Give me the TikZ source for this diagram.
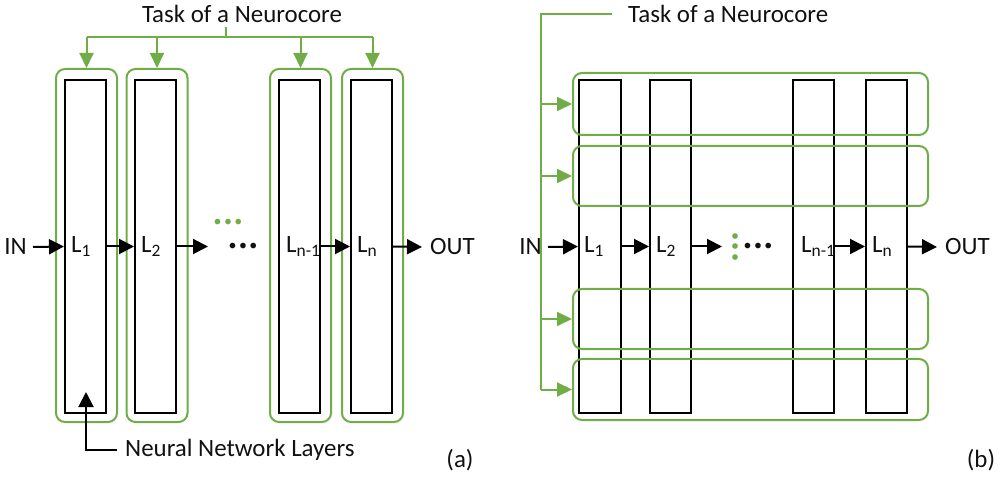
\documentclass[tikz,border=0pt]{standalone}
\usepackage{fontspec}
\setmainfont{Carlito}
\usetikzlibrary{arrows.meta}
\definecolor{ngreen}{HTML}{70AD47}
\definecolor{ntext}{HTML}{111111}
\newcommand{\threedots}{\textbullet\kern2.5bp\textbullet\kern2.5bp\textbullet}
\begin{document}
\begin{tikzpicture}[x=1bp,y=-1bp,
  every node/.style={font=\fontsize{25}{29}\selectfont, text=ntext},
  layer/.style={draw=black, line width=2bp, minimum width=41bp, minimum height=333bp, inner sep=0pt},
  corebox/.style={draw=ngreen, line width=2bp, rounded corners=9bp, inner sep=0pt},
  lbl/.style={anchor=west, inner sep=0pt},
  arr/.style={line width=2bp, draw=black, -{Triangle[length=15bp,width=15bp]}},
  garr/.style={line width=2bp, draw=ngreen, -{Triangle[length=15bp,width=14bp]}},
  gline/.style={line width=2bp, draw=ngreen},
  dots/.style={inner sep=0pt, font=\fontsize{16}{18}\selectfont}
]
\useasboundingbox (0,0) rectangle (1005,481);

% ---------- panel (a) ----------
\node[layer] (a1) at (85.5,246.5) {};
\node[layer] (a2) at (155.5,246.5) {};
\node[layer] (a3) at (299.5,246.5) {};
\node[layer] (a4) at (371.5,246.5) {};
\node[corebox, minimum width=61bp, minimum height=353bp] (ga1) at (86.5,245.5) {};
\node[corebox, minimum width=61bp, minimum height=353bp] (ga2) at (157,245.5) {};
\node[corebox, minimum width=61bp, minimum height=353bp] (ga3) at (300.5,245.5) {};
\node[corebox, minimum width=61bp, minimum height=353bp] (ga4) at (372.5,245.5) {};

\node[lbl] (la1) at ([xshift=7bp]a1.west) {L\textsubscript{1}};
\node[lbl] (la2) at ([xshift=7bp]a2.west) {L\textsubscript{2}};
\node[lbl] (la3) at ([xshift=8bp]a3.west) {L\textsubscript{n-1}};
\node[lbl] (la4) at ([xshift=7bp]a4.west) {L\textsubscript{n}};

\node[anchor=east, inner sep=0pt] (ina) at (27,247) {IN};
\node[anchor=west, inner sep=0pt] (outa) at (430,247) {OUT};
\node[dots] (dota) at (243,247) {\threedots};
\node[dots, text=ngreen] (gdota) at (228,223) {\threedots};
\coordinate (ea) at (208,246.5);

\draw[arr] ([xshift=6bp]ina.east) -- (a1.west);
\draw[arr] (a1.east) -- (a2.west);
\draw[arr] (a2.east) -- (ea);
\draw[arr] (a3.east) -- (a4.west);
\draw[arr] (a4.east) -- ([xshift=-8bp]outa.west);

\node[inner sep=0pt] (taska) at (242,14) {Task of a Neurocore};
\coordinate (ja) at (226,37);
\draw[gline] ([yshift=-4bp]taska.south -| ja) -- (ja);
\draw[gline] (ga1.north |- ja) -- (ga4.north |- ja);
\draw[garr] (ga1.north |- ja) -- (ga1.north);
\draw[garr] (ga2.north |- ja) -- (ga2.north);
\draw[garr] (ga3.north |- ja) -- (ga3.north);
\draw[garr] (ga4.north |- ja) -- (ga4.north);

\node[anchor=west, inner sep=0pt] (nnl) at (125,450) {Neural Network Layers};
\coordinate (tipa) at (86,392);
\draw[arr] ([xshift=-8bp]nnl.west) -| (tipa);

\node[inner sep=0pt] (capa) at (460,460) {(a)};

% ---------- panel (b) ----------
\node[layer, minimum width=42bp] (b1) at (600,246.5) {};
\node[layer] (b2) at (670.5,246.5) {};
\node[layer] (b3) at (813.5,246.5) {};
\node[layer] (b4) at (886.5,246.5) {};
\node[corebox, minimum width=355bp, minimum height=62bp] (gb1) at (750.5,104) {};
\node[corebox, minimum width=355bp, minimum height=60bp] (gb2) at (750.5,176) {};
\node[corebox, minimum width=355bp, minimum height=60bp] (gb3) at (750.5,319) {};
\node[corebox, minimum width=355bp, minimum height=61bp] (gb4) at (750.5,389.5) {};

\node[lbl] (lb1) at ([xshift=6bp]b1.west) {L\textsubscript{1}};
\node[lbl] (lb2) at ([xshift=7bp]b2.west) {L\textsubscript{2}};
\node[lbl] (lb3) at ([xshift=9bp]b3.west) {L\textsubscript{n-1}};
\node[lbl] (lb4) at ([xshift=7bp]b4.west) {L\textsubscript{n}};

\node[anchor=east, inner sep=0pt] (inb) at (542,247) {IN};
\node[anchor=west, inner sep=0pt] (outb) at (945,247) {OUT};
\node[dots] (dotb) at (758,247) {\threedots};
\node[dots, text=ngreen, rotate=90] (gdotb) at (736,247) {\threedots};
\coordinate (eb) at (722,246.5);

\draw[arr] ([xshift=6bp]inb.east) -- (b1.west);
\draw[arr] (b1.east) -- (b2.west);
\draw[arr] (b2.east) -- (eb);
\draw[arr] (b3.east) -- (b4.west);
\draw[arr] (b4.east) -- ([xshift=-8bp]outb.west);

\node[anchor=west, inner sep=0pt] (taskb) at (628,14) {Task of a Neurocore};
\coordinate (jb) at (541,390);
\draw[gline] ([xshift=-16bp]taskb.west) -| (jb);
\draw[garr] (gb1.west -| jb) -- (gb1.west);
\draw[garr] (gb2.west -| jb) -- (gb2.west);
\draw[garr] (gb3.west -| jb) -- (gb3.west);
\draw[garr] (gb4.west -| jb) -- (gb4.west);

\node[inner sep=0pt] (capb) at (981,460) {(b)};
\end{tikzpicture}
\end{document}
